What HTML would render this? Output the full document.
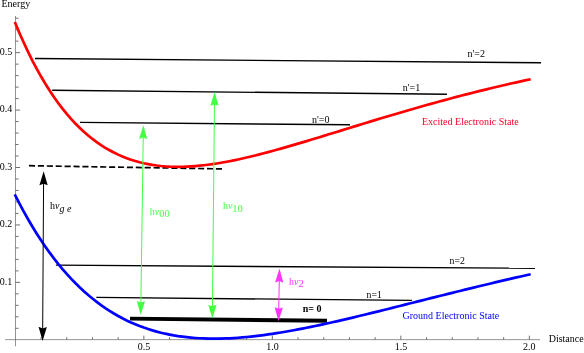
<!DOCTYPE html>
<html><head><meta charset="utf-8"><style>
html,body{margin:0;padding:0;background:#fff;}
svg{display:block;}
text{font-family:"Liberation Serif",serif;}
.t{filter:url(#noop);}
</style></head><body>
<svg width="584" height="353" viewBox="0 0 584 353">
<defs><filter id="noop" x="0" y="0" width="100%" height="100%" filterUnits="userSpaceOnUse" color-interpolation-filters="sRGB"><feOffset dx="0" dy="0"/></filter></defs>
<rect width="584" height="353" fill="#fff"/>
<g stroke="#505050" stroke-width="0.62" fill="none">
<line x1="5" y1="339.65" x2="540" y2="339.65"/>
<line x1="15.5" y1="16" x2="15.5" y2="346.3"/>
</g>
<g stroke="#555" stroke-width="0.85" fill="none">
<line x1="41.05" y1="339.65" x2="41.05" y2="337.15"/><line x1="66.75" y1="339.65" x2="66.75" y2="337.15"/><line x1="92.45" y1="339.65" x2="92.45" y2="337.15"/><line x1="118.15" y1="339.65" x2="118.15" y2="337.15"/><line x1="143.85" y1="339.65" x2="143.85" y2="335.65"/><line x1="169.55" y1="339.65" x2="169.55" y2="337.15"/><line x1="195.25" y1="339.65" x2="195.25" y2="337.15"/><line x1="220.95" y1="339.65" x2="220.95" y2="337.15"/><line x1="246.65" y1="339.65" x2="246.65" y2="337.15"/><line x1="272.35" y1="339.65" x2="272.35" y2="335.65"/><line x1="298.05" y1="339.65" x2="298.05" y2="337.15"/><line x1="323.75" y1="339.65" x2="323.75" y2="337.15"/><line x1="349.45" y1="339.65" x2="349.45" y2="337.15"/><line x1="375.15" y1="339.65" x2="375.15" y2="337.15"/><line x1="400.85" y1="339.65" x2="400.85" y2="335.65"/><line x1="426.55" y1="339.65" x2="426.55" y2="337.15"/><line x1="452.25" y1="339.65" x2="452.25" y2="337.15"/><line x1="477.95" y1="339.65" x2="477.95" y2="337.15"/><line x1="503.65" y1="339.65" x2="503.65" y2="337.15"/><line x1="529.35" y1="339.65" x2="529.35" y2="335.65"/><line x1="15.50" y1="328.31" x2="18.50" y2="328.31"/><line x1="15.50" y1="316.83" x2="18.50" y2="316.83"/><line x1="15.50" y1="305.34" x2="18.50" y2="305.34"/><line x1="15.50" y1="293.86" x2="18.50" y2="293.86"/><line x1="15.50" y1="282.37" x2="20.10" y2="282.37"/><line x1="15.50" y1="270.88" x2="18.50" y2="270.88"/><line x1="15.50" y1="259.40" x2="18.50" y2="259.40"/><line x1="15.50" y1="247.91" x2="18.50" y2="247.91"/><line x1="15.50" y1="236.43" x2="18.50" y2="236.43"/><line x1="15.50" y1="224.94" x2="20.10" y2="224.94"/><line x1="15.50" y1="213.45" x2="18.50" y2="213.45"/><line x1="15.50" y1="201.97" x2="18.50" y2="201.97"/><line x1="15.50" y1="190.48" x2="18.50" y2="190.48"/><line x1="15.50" y1="179.00" x2="18.50" y2="179.00"/><line x1="15.50" y1="167.51" x2="20.10" y2="167.51"/><line x1="15.50" y1="156.02" x2="18.50" y2="156.02"/><line x1="15.50" y1="144.54" x2="18.50" y2="144.54"/><line x1="15.50" y1="133.05" x2="18.50" y2="133.05"/><line x1="15.50" y1="121.57" x2="18.50" y2="121.57"/><line x1="15.50" y1="110.08" x2="20.10" y2="110.08"/><line x1="15.50" y1="98.59" x2="18.50" y2="98.59"/><line x1="15.50" y1="87.11" x2="18.50" y2="87.11"/><line x1="15.50" y1="75.62" x2="18.50" y2="75.62"/><line x1="15.50" y1="64.14" x2="18.50" y2="64.14"/><line x1="15.50" y1="52.65" x2="20.10" y2="52.65"/><line x1="15.50" y1="41.16" x2="18.50" y2="41.16"/><line x1="15.50" y1="29.68" x2="18.50" y2="29.68"/><line x1="15.50" y1="18.19" x2="18.50" y2="18.19"/>
</g>
<g class="t" font-size="10" fill="#000">
<text x="1.5" y="6.9">Energy</text>
<text x="548.7" y="341.5">Distance</text>
<text x="-0.3" y="54.7">0.5</text>
<text x="-0.3" y="112.2">0.4</text>
<text x="-0.3" y="169.7">0.3</text>
<text x="-0.3" y="227.1">0.2</text>
<text x="-0.3" y="284.7">0.1</text>
<text x="144" y="349.7" text-anchor="middle">0.5</text>
<text x="272.6" y="349.7" text-anchor="middle">1.0</text>
<text x="401" y="349.7" text-anchor="middle">1.5</text>
<text x="529.3" y="349.7" text-anchor="middle">2.0</text>
</g>
<g stroke="#000" stroke-width="1.45" fill="none">
<line x1="35" y1="58.5" x2="541" y2="62.8"/>
<line x1="52.2" y1="90.3" x2="447" y2="94.3"/>
<line x1="80" y1="122.4" x2="350" y2="124.8"/>
<line x1="55.9" y1="265.1" x2="535" y2="268.3"/>
<line x1="96.3" y1="297.4" x2="411.9" y2="300.4"/>
<line x1="130" y1="318.6" x2="327" y2="320.8" stroke-width="3.9"/>
<line x1="29" y1="165.7" x2="222.2" y2="168.9" stroke-dasharray="6.1,2.8" stroke-width="1.7"/>
</g>
<path d="M15.35,23.22 L19.63,33.41 L23.92,43.04 L28.20,52.15 L32.48,60.76 L36.77,68.88 L41.05,76.54 L45.33,83.77 L49.62,90.56 L53.90,96.96 L58.18,102.97 L62.47,108.60 L66.75,113.88 L71.03,118.82 L75.32,123.44 L79.60,127.75 L83.88,131.76 L88.17,135.48 L92.45,138.94 L96.73,142.14 L101.02,145.09 L105.30,147.80 L109.58,150.29 L113.87,152.56 L118.15,154.63 L122.43,156.51 L126.72,158.19 L131.00,159.70 L135.28,161.04 L139.57,162.23 L143.85,163.25 L148.13,164.14 L152.42,164.88 L156.70,165.49 L160.98,165.98 L165.27,166.35 L169.55,166.60 L173.83,166.75 L178.12,166.80 L182.40,166.75 L186.68,166.61 L190.97,166.38 L195.25,166.08 L199.53,165.70 L203.82,165.24 L208.10,164.72 L212.38,164.13 L216.67,163.48 L220.95,162.77 L225.23,162.01 L229.52,161.21 L233.80,160.35 L238.08,159.45 L242.37,158.51 L246.65,157.53 L250.93,156.52 L255.22,155.47 L259.50,154.39 L263.78,153.28 L268.07,152.15 L272.35,150.99 L276.63,149.82 L280.92,148.62 L285.20,147.40 L289.48,146.17 L293.77,144.92 L298.05,143.66 L302.33,142.38 L306.62,141.10 L310.90,139.81 L315.18,138.51 L319.47,137.20 L323.75,135.89 L328.03,134.58 L332.32,133.26 L336.60,131.94 L340.88,130.62 L345.17,129.29 L349.45,127.97 L353.73,126.65 L358.02,125.34 L362.30,124.02 L366.58,122.71 L370.87,121.41 L375.15,120.11 L379.43,118.81 L383.72,117.52 L388.00,116.24 L392.28,114.96 L396.57,113.69 L400.85,112.43 L405.13,111.18 L409.42,109.94 L413.70,108.70 L417.98,107.48 L422.27,106.26 L426.55,105.06 L430.83,103.86 L435.12,102.68 L439.40,101.50 L443.68,100.34 L447.97,99.18 L452.25,98.04 L456.53,96.91 L460.82,95.79 L465.10,94.68 L469.38,93.59 L473.67,92.50 L477.95,91.43 L482.23,90.37 L486.52,89.32 L490.80,88.28 L495.08,87.26 L499.37,86.24 L503.65,85.24 L507.93,84.25 L512.22,83.28 L516.50,82.31 L520.78,81.36 L525.07,80.42 L529.35,79.49" stroke="#ff0000" stroke-width="2.7" fill="none" stroke-linecap="square"/>
<path d="M15.35,195.54 L19.63,203.88 L23.92,211.86 L28.20,219.48 L32.48,226.75 L36.77,233.70 L41.05,240.32 L45.33,246.64 L49.62,252.66 L53.90,258.39 L58.18,263.84 L62.47,269.02 L66.75,273.95 L71.03,278.63 L75.32,283.06 L79.60,287.27 L83.88,291.25 L88.17,295.02 L92.45,298.57 L96.73,301.93 L101.02,305.10 L105.30,308.07 L109.58,310.87 L113.87,313.50 L118.15,315.96 L122.43,318.26 L126.72,320.41 L131.00,322.40 L135.28,324.26 L139.57,325.98 L143.85,327.56 L148.13,329.02 L152.42,330.36 L156.70,331.58 L160.98,332.69 L165.27,333.69 L169.55,334.58 L173.83,335.38 L178.12,336.08 L182.40,336.68 L186.68,337.20 L190.97,337.64 L195.25,337.99 L199.53,338.27 L203.82,338.47 L208.10,338.60 L212.38,338.66 L216.67,338.66 L220.95,338.59 L225.23,338.46 L229.52,338.28 L233.80,338.04 L238.08,337.75 L242.37,337.41 L246.65,337.03 L250.93,336.60 L255.22,336.12 L259.50,335.61 L263.78,335.05 L268.07,334.46 L272.35,333.83 L276.63,333.18 L280.92,332.48 L285.20,331.76 L289.48,331.01 L293.77,330.24 L298.05,329.44 L302.33,328.61 L306.62,327.77 L310.90,326.90 L315.18,326.01 L319.47,325.10 L323.75,324.18 L328.03,323.24 L332.32,322.28 L336.60,321.32 L340.88,320.33 L345.17,319.34 L349.45,318.34 L353.73,317.32 L358.02,316.30 L362.30,315.26 L366.58,314.22 L370.87,313.18 L375.15,312.12 L379.43,311.07 L383.72,310.00 L388.00,308.94 L392.28,307.87 L396.57,306.79 L400.85,305.72 L405.13,304.64 L409.42,303.56 L413.70,302.49 L417.98,301.41 L422.27,300.33 L426.55,299.25 L430.83,298.18 L435.12,297.10 L439.40,296.03 L443.68,294.96 L447.97,293.89 L452.25,292.83 L456.53,291.77 L460.82,290.71 L465.10,289.66 L469.38,288.61 L473.67,287.57 L477.95,286.53 L482.23,285.50 L486.52,284.47 L490.80,283.45 L495.08,282.43 L499.37,281.42 L503.65,280.41 L507.93,279.42 L512.22,278.42 L516.50,277.44 L520.78,276.46 L525.07,275.49 L529.35,274.52" stroke="#0000ff" stroke-width="2.7" fill="none" stroke-linecap="square"/>
<g fill="#000" stroke="none"><line x1="43.60" y1="179.20" x2="42.65" y2="332.90" stroke="#000" stroke-width="1.00"/><path d="M43.65,171.20 L39.41,185.17 L43.57,183.70 L47.71,185.23 Z"/><path d="M42.60,340.90 L38.54,326.87 L42.68,328.40 L46.84,326.93 Z"/></g>
<g fill="#44ff44" stroke="none"><line x1="143.29" y1="133.30" x2="140.81" y2="306.90" stroke="#44ff44" stroke-width="1.00"/><path d="M143.40,125.30 L139.10,139.04 L143.22,137.60 L147.30,139.16 Z"/><path d="M140.70,314.90 L136.80,301.04 L140.88,302.60 L145.00,301.16 Z"/></g>
<g fill="#44ff44" stroke="none"><line x1="214.52" y1="100.00" x2="212.38" y2="310.60" stroke="#44ff44" stroke-width="1.00"/><path d="M214.60,92.00 L210.36,105.76 L214.48,104.30 L218.56,105.84 Z"/><path d="M212.30,318.60 L208.34,304.76 L212.42,306.30 L216.54,304.84 Z"/></g>
<g fill="#ff33ff" stroke="none"><line x1="279.35" y1="276.60" x2="278.65" y2="313.30" stroke="#ff33ff" stroke-width="1.00"/><path d="M279.50,268.60 L275.14,282.52 L279.26,281.10 L283.33,282.68 Z"/><path d="M278.50,321.30 L274.67,307.22 L278.74,308.80 L282.86,307.38 Z"/></g>
<g class="t" font-size="10">
<text x="467.5" y="56.8">n'=2</text>
<text x="402.8" y="90.5">n'=1</text>
<text x="312" y="122.5">n'=0</text>
<text x="449.5" y="263.7" font-size="9.8">n=2</text>
<text x="366.6" y="297.6" font-size="9.8">n=1</text>
<text x="302.8" y="311.5" font-weight="bold">n= 0</text>
<text x="422" y="124.5" fill="#ff0028">Excited Electronic State</text>
<text x="402.5" y="318.5" fill="#0000ff">Ground Electronic State</text>
<text x="50" y="208.8">h<tspan font-style="italic">ν</tspan><tspan font-style="italic" dy="3.4">g e</tspan></text>
<text x="149.8" y="214.5" fill="#44ff44">h<tspan font-style="italic">ν</tspan><tspan dy="2.2" font-size="10.5">00</tspan></text>
<text x="222.9" y="209" fill="#44ff44">h<tspan font-style="italic">ν</tspan><tspan dy="2.7" font-size="10.5">10</tspan></text>
<text x="289" y="284.8" fill="#ff33ff">h<tspan font-style="italic">ν</tspan><tspan dy="2.1" font-size="10.5">2</tspan></text>
</g>
</svg>
</body></html>
